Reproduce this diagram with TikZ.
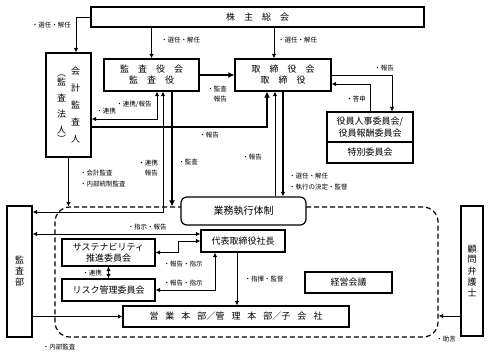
\documentclass[tikz,border=0pt]{standalone}
\usepackage{fontspec}
\setmainfont{Noto Sans CJK JP}
\usepackage{tikz}
\usetikzlibrary{arrows.meta,positioning,calc}
\newcommand\wgap{\hspace{9pt}}
\newcommand\ngap{\hspace{7pt}}
\tikzset{
  organ/.style={draw=black, line width=1.2pt, fill=white, align=center,
    inner sep=0pt, font=\fontsize{9}{11}\selectfont},
  execbox/.style={organ, rounded corners=6pt, font=\fontsize{10}{12}\selectfont},
  area/.style={draw=black, line width=1.2pt, dash pattern=on 5pt off 3pt,
    rounded corners=15pt, inner sep=0pt},
  wire/.style={-{Latex[length=4.5pt,width=4.5pt]}, line width=1pt},
  midwire/.style={wire, line width=1.8pt},
  heavywire/.style={-{Latex[length=6pt,width=6pt]}, line width=2.6pt},
  bothwire/.style={{Latex[length=4.5pt,width=4.5pt]}-{Latex[length=4.5pt,width=4.5pt]}, line width=1pt},
  note/.style={font=\fontsize{6.5}{10.5}\selectfont, inner sep=0pt, align=left}
}
\begin{document}
\begin{tikzpicture}[x=1pt, y=-1pt]
  \useasboundingbox (0,0) rectangle (489,357);
  \node[area, minimum width=383pt, minimum height=130pt] (frame) at (246.5,272) {};
  \node[organ, minimum width=333pt, minimum height=20pt] (meeting) at (257.5,17) {株\wgap 主\wgap 総\wgap 会};
  \node[organ, minimum width=45pt, minimum height=104pt] (auditor) at (68.5,105)
    {\shortstack{︵\\[-2pt]監\\[5pt]査\\[5pt]法\\[5pt]人\\[-2pt]︶}\hspace{5pt}\shortstack{会\\[6pt]計\\[6pt]監\\[6pt]査\\[6pt]人}};
  \node[organ, minimum width=95pt, minimum height=32pt] (kansa) at (151.5,75) {監\wgap 査\wgap 役\wgap 会\\監\wgap 査\wgap 役};
  \node[organ, minimum width=96pt, minimum height=32pt] (board) at (283,75) {取\wgap 締\wgap 役\wgap 会\\取\wgap 締\wgap 役};
  \node[organ, minimum width=86pt, minimum height=30pt, font=\fontsize{9}{12}\selectfont] (nomination) at (370,127) {役員人事委員会/\\役員報酬委員会};
  \node[organ, minimum width=86pt, minimum height=21pt, below=-1.2pt of nomination] (special) {特別委員会};
  \node[execbox, minimum width=125pt, minimum height=28pt] (exec) at (243.5,211) {業務執行体制};
  \node[organ, minimum width=84pt, minimum height=22pt] (ceo) at (243,241) {代表取締役社長};
  \node[organ, minimum width=93pt, minimum height=27pt, font=\fontsize{9}{11.5}\selectfont] (sustain) at (108.5,252.5) {サステナビリティ\\推進委員会};
  \node[organ, minimum width=93pt, minimum height=22pt] (risk) at (108.5,290) {リスク管理委員会};
  \node[organ, minimum width=226pt, minimum height=21pt] (division) at (236,316.5) {営\ngap 業\ngap 本\ngap 部／管\ngap 理\ngap 本\ngap 部／子\ngap 会\ngap 社};
  \node[organ, minimum width=87pt, minimum height=21pt] (council) at (348.5,282.5) {経営会議};
  \node[organ, minimum width=25pt, minimum height=131pt] (internal) at (19.5,271.5) {\shortstack{監\\査\\部}};
  \node[organ, minimum width=22pt, minimum height=130pt] (lawyer) at (472,271) {\shortstack{顧\\問\\弁\\護\\士}};

  \coordinate (b1) at ([xshift=-9pt]board.north);
  \coordinate (b2) at ([xshift=-8pt]board.south);
  \coordinate (k3) at ([xshift=20.5pt]kansa.south);
  \coordinate (a1) at ([yshift=37.5pt]internal.east);
  \coordinate (c1) at ([xshift=-6pt]ceo.south);
  \coordinate (l1) at ([yshift=-45pt]lawyer.west);
  \draw[wire] (meeting.west) -| ([xshift=7.5pt]auditor.north);
  \draw[wire] (meeting.south -| kansa.north) -- (kansa.north);
  \draw[wire] (b1 |- meeting.south) -- (b1);
  \draw[heavywire] (kansa.east) -- (board.west);
  \draw[wire] (board.east) -| ([xshift=22pt]nomination.north);
  \draw[wire] (nomination.north) |- ([yshift=-9pt]board.east);
  \draw[bothwire] ([yshift=-14pt]auditor.east) -| ([xshift=5.5pt]kansa.south);
  \draw[heavywire] ([yshift=-22pt]auditor.east) -| ([xshift=-16pt]board.south);
  \draw[bothwire] ([xshift=11.5pt]kansa.south) |- ([yshift=59.5pt]internal.east);
  \draw[heavywire] (k3) -- (k3 |- frame.north);
  \draw[wire] (b2 |- exec.north) -- (b2);
  \draw[midwire] (board.south) -- (board.south |- exec.north);
  \draw[wire] (auditor.south) -- (auditor.south |- frame.north);
  \draw[bothwire] (a1) -- (a1 -| ceo.west);
  \draw[bothwire] (sustain.east) -- ++(23,0) |- (ceo.west);
  \draw[bothwire] (risk.east) -| ([xshift=-28pt]ceo.south);
  \draw[bothwire] (sustain.south) -- (risk.north);
  \draw[wire] (internal.east |- division.west) -- (division.west);
  \draw[wire] (c1) -- (c1 |- division.north);
  \draw[wire] (l1) -- (l1 -| frame.east);

  \node[note, anchor=east] (n1) at (71,25) {・選任・解任};
  \node[note, anchor=west] (n2) at (161,40) {・選任・解任};
  \node[note, anchor=west] (n3) at (278,40) {・選任・解任};
  \node[note, align=right] (n4) at (217,94) {・監査\\報告};
  \node[note] (n5) at (384,68) {・報告};
  \node[note] (n6) at (356,99) {・答申};
  \node[note] (n7) at (134,104) {・連携/報告};
  \node[note] (n8) at (106,111) {・連携};
  \node[note] (n9) at (209,135) {・報告};
  \node[note, align=right] (n10) at (148,168) {・連携\\報告};
  \node[note] (n11) at (188,162) {・監査};
  \node[note] (n12) at (252,157) {・報告};
  \node[note, anchor=west] (n13) at (289,181.5) {・選任・解任\\・執行の決定・監督};
  \node[note, anchor=west] (n14) at (80,178.5) {・会計監査\\・内部統制監査};
  \node[note] (n15) at (147,227) {・指示・報告};
  \node[note] (n16) at (183,264) {・報告・指示};
  \node[note] (n17) at (183,283) {・報告・指示};
  \node[note] (n18) at (92,273) {・連携};
  \node[note] (n19) at (59,347) {・内部監査};
  \node[note] (n20) at (264,279) {・指揮・監督};
  \node[note] (n21) at (446,339) {・助言};
\end{tikzpicture}
\end{document}
